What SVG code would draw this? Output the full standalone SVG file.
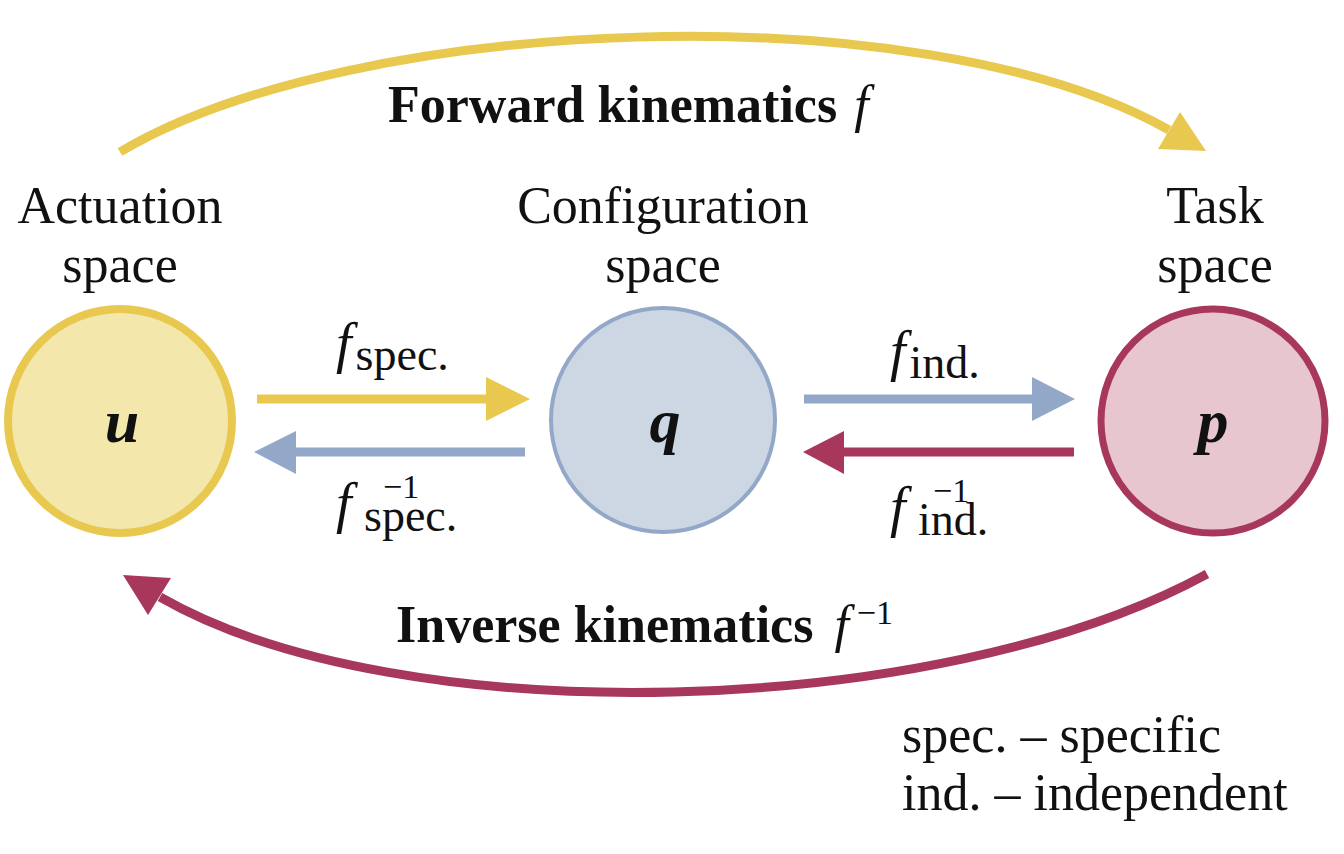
<svg xmlns="http://www.w3.org/2000/svg" width="1344" height="854" viewBox="0 0 1344 854">
<style>
  .lbl { font-family: "Liberation Serif", "Times New Roman", serif; font-size: 52px; fill: #111; }
  .bold { font-weight: bold; }
  .it { font-style: italic; font-weight: normal; }
  .var { font-family: "Liberation Serif", serif; font-size: 62px; font-weight: bold; font-style: italic; fill: #111; }
  .sub { font-size: 46px; font-style: normal; }
  .sup { font-size: 34px; font-style: normal; font-weight: normal; }
  .conn { fill: none; stroke-width: 9; }
  .y { stroke: #E8C84E; }
  .b { stroke: #93A8C8; }
  .r { stroke: #A8375C; }
</style>
<rect width="1344" height="854" fill="#FFFFFF"/>

<g id="node-u">
  <circle cx="120" cy="421" r="112" fill="#F3E7AC" stroke="#E8C84E" stroke-width="8"/>
  <text class="var" x="122" y="442" text-anchor="middle">u</text>
  <text class="lbl" x="120" y="223" text-anchor="middle">Actuation</text>
  <text class="lbl" x="120" y="282" text-anchor="middle">space</text>
</g>
<g id="node-q">
  <circle cx="663" cy="420" r="112" fill="#CDD7E4" stroke="#93A8C8" stroke-width="4"/>
  <text class="var" x="665" y="442" text-anchor="middle">q</text>
  <text class="lbl" x="663" y="223" text-anchor="middle">Configuration</text>
  <text class="lbl" x="663" y="282" text-anchor="middle">space</text>
</g>
<g id="node-p">
  <circle cx="1213" cy="421" r="112" fill="#E7C6D0" stroke="#A8375C" stroke-width="7"/>
  <text class="var" x="1213" y="442" text-anchor="middle">p</text>
  <text class="lbl" x="1215" y="223" text-anchor="middle">Task</text>
  <text class="lbl" x="1215" y="282" text-anchor="middle">space</text>
</g>

<g id="connectors">
  <path class="conn y" d="M120,152 C350,15 920,-10 1169,130"/>
  <polygon points="1180,112 1158,149 1206,151" fill="#E8C84E"/>
  <path class="conn r" d="M1207,574 C940,720 400,735 160,597"/>
  <polygon points="123,575 171,578 148,615" fill="#A8375C"/>
  <line class="conn y" x1="257" y1="399" x2="490" y2="399"/>
  <polygon points="486,377 530,399 486,421" fill="#E8C84E"/>
  <line class="conn b" x1="525" y1="452" x2="292" y2="452"/>
  <polygon points="296,431 254,452 296,474" fill="#93A8C8"/>
  <line class="conn b" x1="804" y1="399" x2="1036" y2="399"/>
  <polygon points="1032,377 1075,399 1032,421" fill="#93A8C8"/>
  <line class="conn r" x1="1074" y1="452" x2="840" y2="452"/>
  <polygon points="844,431 803,452 844,474" fill="#A8375C"/>
</g>

<g id="labels">
  <text class="lbl bold" x="388" y="122">Forward kinematics <tspan class="it" dx="4">f</tspan></text>
  <text class="lbl bold" x="396" y="642">Inverse kinematics <tspan class="it" dx="8">f</tspan><tspan class="sup" font-size="40" dx="8" dy="-18">−1</tspan></text>

  <text class="lbl" x="336" y="362"><tspan class="it" font-size="56">f</tspan><tspan class="sub" dx="4" dy="8">spec.</tspan></text>
  <text class="lbl"><tspan class="it" font-size="56" x="336" y="522">f</tspan><tspan class="sup" x="383" y="498">−1</tspan><tspan class="sub" x="364" y="531">spec.</tspan></text>

  <text class="lbl" x="890" y="370"><tspan class="it" font-size="56">f</tspan><tspan class="sub" dx="4" dy="8">ind.</tspan></text>
  <text class="lbl"><tspan class="it" font-size="56" x="890" y="526">f</tspan><tspan class="sup" x="933" y="502">−1</tspan><tspan class="sub" x="918" y="535">ind.</tspan></text>

  <text class="lbl" x="902" y="752">spec. – specific</text>
  <text class="lbl" x="902" y="810">ind. – independent</text>
</g>
</svg>
